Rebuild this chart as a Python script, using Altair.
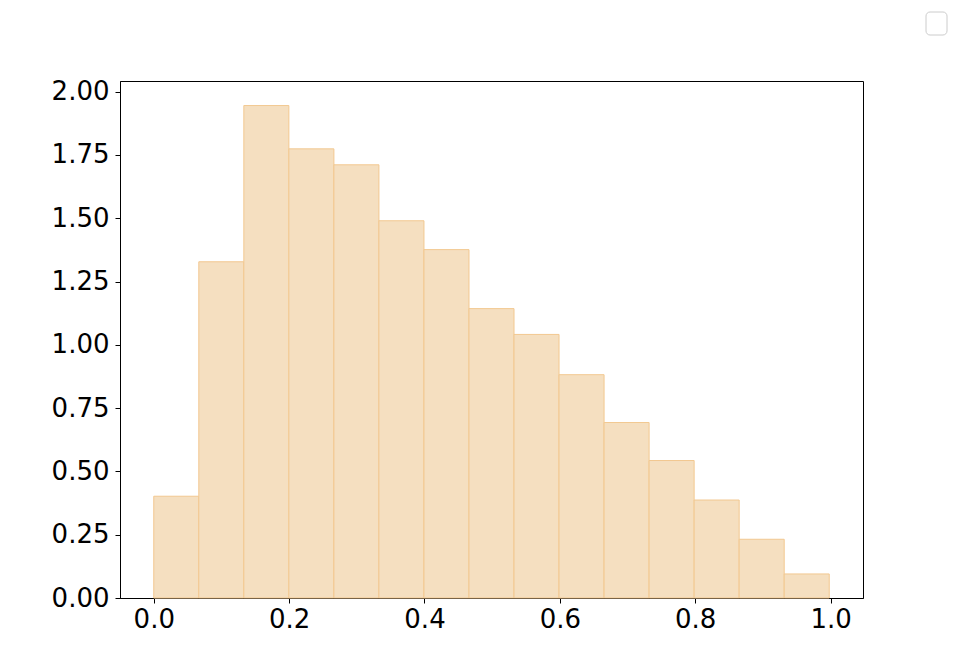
import altair as alt
import numpy as np
import pandas as pd

# Histogram (density)
bin_min = 0.0
bin_max = 0.998
n_bins = 15
heights = [0.402, 1.328, 1.945, 1.774, 1.711, 1.490, 1.376, 1.143,
           1.041, 0.882, 0.693, 0.543, 0.387, 0.232, 0.095]

x_ticks = [0.0, 0.2, 0.4, 0.6, 0.8, 1.0]
y_ticks = [0.0, 0.25, 0.5, 0.75, 1.0, 1.25, 1.5, 1.75, 2.0]

edges = np.linspace(bin_min, bin_max, n_bins + 1)
df = pd.DataFrame({"start": edges[:-1], "end": edges[1:], "density": heights})

x_scale = alt.Scale(domain=[-0.0499, 1.0479], nice=False, zero=False)
y_scale = alt.Scale(domain=[0, 2.042], nice=False)

axis_common = dict(
    grid=False, domainColor="black", tickColor="black", tickSize=5,
    labelFont="DejaVu Sans", labelFontSize=26, labelColor="black", title=None,
)

bars = alt.Chart(df).mark_rect(
    fill="#f5dfc0", stroke="#f2c890", strokeWidth=1
).encode(
    x=alt.X("start:Q", scale=x_scale,
            axis=alt.Axis(values=x_ticks, format=".1f", labelPadding=3, **axis_common)),
    x2="end:Q",
    y=alt.Y("density:Q", scale=y_scale,
            axis=alt.Axis(values=y_ticks, format=".2f", labelPadding=6, **axis_common)),
    y2=alt.datum(0),
)

legend_box = alt.Chart(alt.Data(values=[{}])).mark_rect(
    fill="white", stroke="#cccccc", strokeWidth=1, cornerRadius=4
).encode(
    x=alt.value(806), x2=alt.value(827), y=alt.value(-69), y2=alt.value(-46)
)

chart = alt.layer(bars, legend_box).properties(
    width=743, height=517,
    autosize=alt.AutoSizeParams(type="none"),
    padding={"left": 112, "top": 73, "right": 88, "bottom": 60},
).configure_view(stroke="black", strokeWidth=1)

chart.save("out.html", embed_options={"renderer": "svg", "actions": False})
